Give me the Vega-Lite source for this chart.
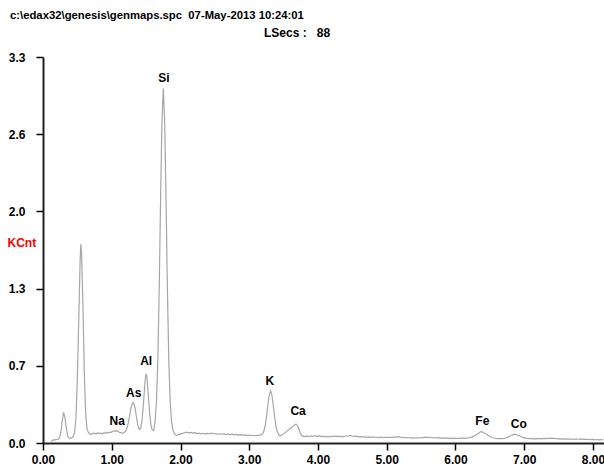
{
  "$schema": "https://vega.github.io/schema/vega-lite/v6.json",
  "width": 561,
  "height": 386,
  "autosize": {"type": "none"},
  "padding": {"left": 43, "top": 57, "right": 0, "bottom": 27},
  "background": "white",
  "config": {"view": {"stroke": null}, "font": "Liberation Sans"},
  "datasets": {
    "spec": [
      {"e":0.12,"c":0.012},{"e":0.14,"c":0.022},{"e":0.16,"c":0.028},{"e":0.18,"c":0.026},{"e":0.20,"c":0.030},
      {"e":0.22,"c":0.032},{"e":0.24,"c":0.045},{"e":0.26,"c":0.090},{"e":0.28,"c":0.190},{"e":0.30,"c":0.262},
      {"e":0.32,"c":0.215},{"e":0.34,"c":0.120},{"e":0.36,"c":0.060},{"e":0.38,"c":0.042},{"e":0.40,"c":0.038},
      {"e":0.42,"c":0.045},{"e":0.44,"c":0.055},{"e":0.46,"c":0.090},{"e":0.48,"c":0.220},{"e":0.50,"c":0.560},
      {"e":0.52,"c":1.050},{"e":0.54,"c":1.560},{"e":0.55,"c":1.700},{"e":0.56,"c":1.640},{"e":0.58,"c":1.200},
      {"e":0.60,"c":0.620},{"e":0.62,"c":0.260},{"e":0.64,"c":0.120},{"e":0.66,"c":0.090},{"e":0.68,"c":0.078},
      {"e":0.70,"c":0.072},{"e":0.72,"c":0.080},{"e":0.74,"c":0.085},{"e":0.76,"c":0.078},{"e":0.78,"c":0.082},
      {"e":0.80,"c":0.088},{"e":0.82,"c":0.080},{"e":0.84,"c":0.084},{"e":0.86,"c":0.079},{"e":0.88,"c":0.086},
      {"e":0.90,"c":0.083},{"e":0.92,"c":0.090},{"e":0.94,"c":0.085},{"e":0.96,"c":0.092},{"e":0.98,"c":0.088},
      {"e":1.00,"c":0.095},{"e":1.02,"c":0.100},{"e":1.04,"c":0.106},{"e":1.06,"c":0.098},{"e":1.08,"c":0.104},
      {"e":1.10,"c":0.094},{"e":1.12,"c":0.090},{"e":1.14,"c":0.086},{"e":1.16,"c":0.084},{"e":1.18,"c":0.090},
      {"e":1.20,"c":0.100},{"e":1.22,"c":0.125},{"e":1.24,"c":0.170},{"e":1.26,"c":0.235},{"e":1.28,"c":0.300},
      {"e":1.30,"c":0.340},{"e":1.31,"c":0.346},{"e":1.32,"c":0.338},{"e":1.34,"c":0.295},{"e":1.36,"c":0.220},
      {"e":1.38,"c":0.150},{"e":1.40,"c":0.115},{"e":1.42,"c":0.125},{"e":1.44,"c":0.190},{"e":1.46,"c":0.330},
      {"e":1.48,"c":0.490},{"e":1.49,"c":0.560},{"e":1.50,"c":0.592},{"e":1.51,"c":0.570},{"e":1.53,"c":0.430},
      {"e":1.55,"c":0.260},{"e":1.57,"c":0.150},{"e":1.59,"c":0.110},{"e":1.61,"c":0.105},{"e":1.63,"c":0.180},
      {"e":1.65,"c":0.350},{"e":1.67,"c":0.700},{"e":1.69,"c":1.300},{"e":1.71,"c":2.070},{"e":1.73,"c":2.750},
      {"e":1.75,"c":3.030},{"e":1.77,"c":2.750},{"e":1.79,"c":2.070},{"e":1.81,"c":1.300},{"e":1.83,"c":0.700},
      {"e":1.85,"c":0.350},{"e":1.87,"c":0.180},{"e":1.89,"c":0.110},{"e":1.91,"c":0.080},{"e":1.93,"c":0.068},
      {"e":1.95,"c":0.066},{"e":1.97,"c":0.072},{"e":2.00,"c":0.078},{"e":2.03,"c":0.082},{"e":2.06,"c":0.088},
      {"e":2.09,"c":0.092},{"e":2.12,"c":0.086},{"e":2.15,"c":0.090},{"e":2.18,"c":0.084},{"e":2.21,"c":0.088},
      {"e":2.24,"c":0.080},{"e":2.27,"c":0.085},{"e":2.30,"c":0.078},{"e":2.33,"c":0.083},{"e":2.36,"c":0.076},
      {"e":2.39,"c":0.082},{"e":2.42,"c":0.079},{"e":2.45,"c":0.084},{"e":2.48,"c":0.077},{"e":2.51,"c":0.081},
      {"e":2.54,"c":0.074},{"e":2.57,"c":0.079},{"e":2.60,"c":0.075},{"e":2.63,"c":0.080},{"e":2.66,"c":0.072},
      {"e":2.69,"c":0.077},{"e":2.72,"c":0.071},{"e":2.75,"c":0.076},{"e":2.78,"c":0.070},{"e":2.81,"c":0.074},
      {"e":2.84,"c":0.068},{"e":2.87,"c":0.072},{"e":2.90,"c":0.066},{"e":2.93,"c":0.070},{"e":2.96,"c":0.065},
      {"e":2.99,"c":0.068},{"e":3.02,"c":0.063},{"e":3.05,"c":0.066},{"e":3.08,"c":0.062},{"e":3.11,"c":0.065},
      {"e":3.14,"c":0.066},{"e":3.17,"c":0.070},{"e":3.19,"c":0.076},{"e":3.21,"c":0.097},{"e":3.23,"c":0.143},
      {"e":3.25,"c":0.220},{"e":3.27,"c":0.320},{"e":3.29,"c":0.410},{"e":3.31,"c":0.445},{"e":3.33,"c":0.410},
      {"e":3.35,"c":0.320},{"e":3.37,"c":0.220},{"e":3.39,"c":0.140},{"e":3.41,"c":0.092},{"e":3.43,"c":0.070},
      {"e":3.45,"c":0.062},{"e":3.47,"c":0.066},{"e":3.50,"c":0.078},{"e":3.53,"c":0.092},{"e":3.56,"c":0.108},
      {"e":3.59,"c":0.122},{"e":3.62,"c":0.134},{"e":3.65,"c":0.150},{"e":3.68,"c":0.163},{"e":3.70,"c":0.150},
      {"e":3.72,"c":0.122},{"e":3.74,"c":0.088},{"e":3.76,"c":0.064},{"e":3.78,"c":0.056},{"e":3.81,"c":0.054},
      {"e":3.84,"c":0.058},{"e":3.87,"c":0.055},{"e":3.90,"c":0.060},{"e":3.93,"c":0.056},{"e":3.96,"c":0.062},
      {"e":3.99,"c":0.057},{"e":4.02,"c":0.060},{"e":4.05,"c":0.054},{"e":4.08,"c":0.058},{"e":4.11,"c":0.052},
      {"e":4.14,"c":0.057},{"e":4.17,"c":0.053},{"e":4.20,"c":0.058},{"e":4.23,"c":0.054},{"e":4.26,"c":0.060},
      {"e":4.29,"c":0.055},{"e":4.32,"c":0.058},{"e":4.35,"c":0.052},{"e":4.38,"c":0.056},{"e":4.41,"c":0.062},
      {"e":4.44,"c":0.058},{"e":4.47,"c":0.066},{"e":4.50,"c":0.060},{"e":4.53,"c":0.055},{"e":4.56,"c":0.058},
      {"e":4.59,"c":0.052},{"e":4.62,"c":0.055},{"e":4.65,"c":0.050},{"e":4.68,"c":0.054},{"e":4.71,"c":0.049},
      {"e":4.74,"c":0.053},{"e":4.77,"c":0.048},{"e":4.80,"c":0.052},{"e":4.83,"c":0.047},{"e":4.86,"c":0.051},
      {"e":4.89,"c":0.046},{"e":4.92,"c":0.050},{"e":4.95,"c":0.045},{"e":4.98,"c":0.049},{"e":5.01,"c":0.046},
      {"e":5.04,"c":0.050},{"e":5.07,"c":0.047},{"e":5.10,"c":0.052},{"e":5.13,"c":0.048},{"e":5.16,"c":0.054},
      {"e":5.19,"c":0.050},{"e":5.22,"c":0.046},{"e":5.25,"c":0.049},{"e":5.28,"c":0.044},{"e":5.31,"c":0.047},
      {"e":5.34,"c":0.043},{"e":5.37,"c":0.046},{"e":5.40,"c":0.042},{"e":5.43,"c":0.045},{"e":5.46,"c":0.043},
      {"e":5.49,"c":0.047},{"e":5.52,"c":0.044},{"e":5.55,"c":0.048},{"e":5.58,"c":0.050},{"e":5.61,"c":0.046},
      {"e":5.64,"c":0.049},{"e":5.67,"c":0.044},{"e":5.70,"c":0.047},{"e":5.73,"c":0.042},{"e":5.76,"c":0.045},
      {"e":5.79,"c":0.041},{"e":5.82,"c":0.044},{"e":5.85,"c":0.040},{"e":5.88,"c":0.043},{"e":5.91,"c":0.039},
      {"e":5.94,"c":0.042},{"e":5.97,"c":0.038},{"e":6.00,"c":0.041},{"e":6.03,"c":0.038},{"e":6.06,"c":0.042},
      {"e":6.09,"c":0.039},{"e":6.12,"c":0.043},{"e":6.15,"c":0.040},{"e":6.18,"c":0.044},{"e":6.21,"c":0.046},
      {"e":6.24,"c":0.052},{"e":6.27,"c":0.060},{"e":6.30,"c":0.070},{"e":6.33,"c":0.082},{"e":6.36,"c":0.094},
      {"e":6.38,"c":0.098},{"e":6.40,"c":0.090},{"e":6.42,"c":0.086},{"e":6.44,"c":0.080},{"e":6.47,"c":0.066},
      {"e":6.50,"c":0.055},{"e":6.53,"c":0.047},{"e":6.56,"c":0.043},{"e":6.59,"c":0.040},{"e":6.62,"c":0.038},
      {"e":6.65,"c":0.037},{"e":6.68,"c":0.038},{"e":6.71,"c":0.040},{"e":6.74,"c":0.045},{"e":6.77,"c":0.052},
      {"e":6.80,"c":0.062},{"e":6.83,"c":0.070},{"e":6.86,"c":0.075},{"e":6.88,"c":0.073},{"e":6.90,"c":0.066},
      {"e":6.92,"c":0.064},{"e":6.95,"c":0.056},{"e":6.98,"c":0.048},{"e":7.01,"c":0.042},{"e":7.04,"c":0.039},
      {"e":7.07,"c":0.037},{"e":7.10,"c":0.039},{"e":7.13,"c":0.036},{"e":7.16,"c":0.038},{"e":7.19,"c":0.035},
      {"e":7.22,"c":0.039},{"e":7.25,"c":0.036},{"e":7.28,"c":0.040},{"e":7.31,"c":0.037},{"e":7.34,"c":0.041},
      {"e":7.37,"c":0.038},{"e":7.40,"c":0.042},{"e":7.43,"c":0.039},{"e":7.46,"c":0.037},{"e":7.49,"c":0.035},
      {"e":7.52,"c":0.037},{"e":7.55,"c":0.034},{"e":7.58,"c":0.036},{"e":7.61,"c":0.033},{"e":7.64,"c":0.035},
      {"e":7.67,"c":0.032},{"e":7.70,"c":0.034},{"e":7.73,"c":0.031},{"e":7.76,"c":0.034},{"e":7.79,"c":0.032},
      {"e":7.82,"c":0.035},{"e":7.85,"c":0.031},{"e":7.88,"c":0.033},{"e":7.91,"c":0.030},{"e":7.94,"c":0.032},
      {"e":7.97,"c":0.029},{"e":8.00,"c":0.031},{"e":8.03,"c":0.028},{"e":8.06,"c":0.030},{"e":8.09,"c":0.027},
      {"e":8.12,"c":0.029},{"e":8.15,"c":0.028}
    ],
    "labels": [
      {"el":"Na","e":1.08,"c":0.19},
      {"el":"As","e":1.32,"c":0.43},
      {"el":"Al","e":1.50,"c":0.70},
      {"el":"Si","e":1.76,"c":3.12},
      {"el":"K","e":3.30,"c":0.53},
      {"el":"Ca","e":3.71,"c":0.27},
      {"el":"Fe","e":6.39,"c":0.19},
      {"el":"Co","e":6.92,"c":0.16}
    ],
    "header1": [
      {"t":"c:\\edax32\\genesis\\genmaps.spc\u00a0\u00a007-May-2013 10:24:01","e":-0.48,"c":3.625}
    ],
    "header2": [
      {"t":"LSecs :\u00a0\u00a0\u00a088","e":3.215,"c":3.47}
    ]
  },
  "layer": [
    {
      "data": {"name": "spec"},
      "mark": {"type": "line", "color": "#a6a6a6", "strokeWidth": 1.2},
      "encoding": {
        "x": {
          "field": "e", "type": "quantitative",
          "scale": {"domain": [0, 8.16], "nice": false, "zero": false},
          "axis": {
            "title": null,
            "values": [0, 1, 2, 3, 4, 5, 6, 7, 8],
            "format": ".2f",
            "grid": false,
            "labelFlush": false,
            "labelFont": "Liberation Sans",
            "labelFontSize": 12,
            "labelFontWeight": "bold",
            "labelColor": "black",
            "labelPadding": 4,
            "tickSize": 7,
            "tickColor": "black",
            "tickWidth": 1.5,
            "domainColor": "#222222",
            "domainWidth": 2
          }
        },
        "y": {
          "field": "c", "type": "quantitative",
          "scale": {"domain": [0, 3.3], "nice": false},
          "axis": {
            "title": "KCnt",
            "titleColor": "red",
            "titleAngle": 0,
            "titleAlign": "left",
            "titleBaseline": "middle",
            "titleX": -36,
            "titleY": 185,
            "titleFont": "Liberation Sans",
            "titleFontSize": 12,
            "titleFontWeight": "bold",
            "values": [0, 0.66, 1.32, 1.98, 2.64, 3.3],
            "format": ".1f",
            "grid": false,
            "labelFlush": false,
            "labelFont": "Liberation Sans",
            "labelFontSize": 12,
            "labelFontWeight": "bold",
            "labelColor": "black",
            "labelPadding": 11,
            "tickSize": 7,
            "tickColor": "black",
            "tickWidth": 1.5,
            "domainColor": "#222222",
            "domainWidth": 2
          }
        }
      }
    },
    {
      "data": {"name": "labels"},
      "mark": {"type": "text", "font": "Liberation Sans", "fontSize": 12, "fontWeight": "bold", "color": "black", "baseline": "middle", "align": "center"},
      "encoding": {
        "x": {"field": "e", "type": "quantitative"},
        "y": {"field": "c", "type": "quantitative"},
        "text": {"field": "el"}
      }
    },
    {
      "data": {"name": "header1"},
      "mark": {"type": "text", "font": "Liberation Sans", "fontSize": 11.3, "fontWeight": "bold", "color": "black", "baseline": "alphabetic", "align": "left"},
      "encoding": {
        "x": {"field": "e", "type": "quantitative"},
        "y": {"field": "c", "type": "quantitative"},
        "text": {"field": "t"}
      }
    },
    {
      "data": {"name": "header2"},
      "mark": {"type": "text", "font": "Liberation Sans", "fontSize": 12, "fontWeight": "bold", "color": "black", "baseline": "alphabetic", "align": "left"},
      "encoding": {
        "x": {"field": "e", "type": "quantitative"},
        "y": {"field": "c", "type": "quantitative"},
        "text": {"field": "t"}
      }
    }
  ]
}
